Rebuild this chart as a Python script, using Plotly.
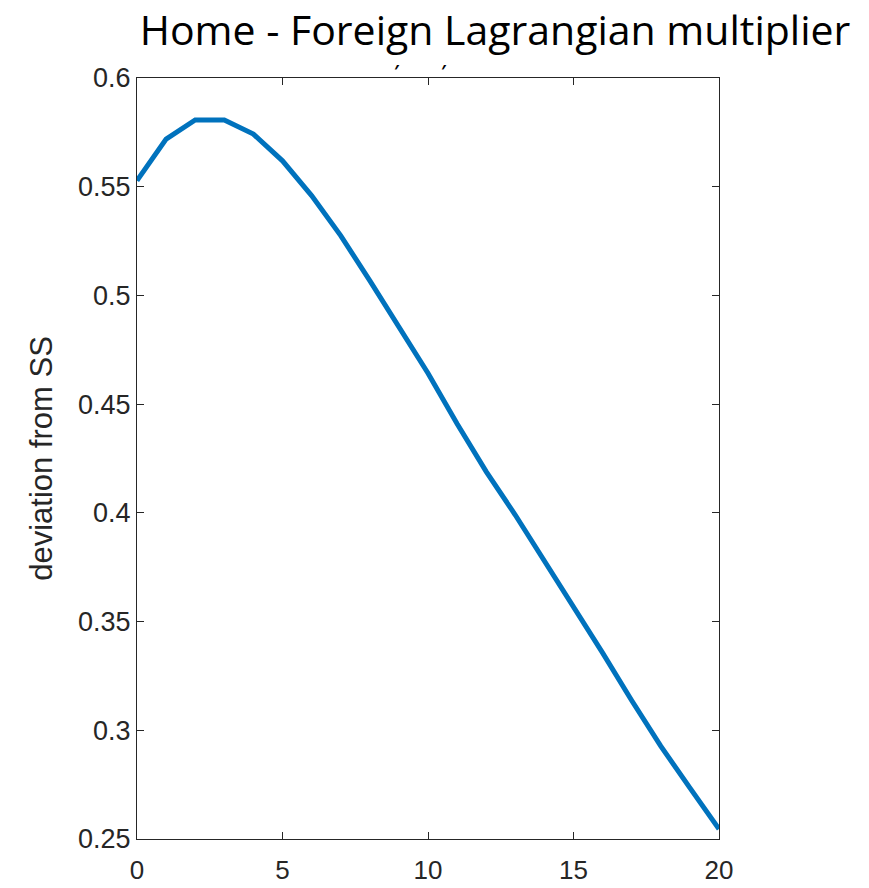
import plotly.graph_objects as go

periods = list(range(21))
deviation = [0.5528, 0.5719, 0.5807, 0.5807, 0.5742, 0.5619, 0.5459, 0.5275, 0.5068,
             0.4853, 0.4642, 0.4410, 0.4190, 0.3990, 0.3780, 0.3573, 0.3356, 0.3137,
             0.2927, 0.2735, 0.2546]
x_ticks = [0, 5, 10, 15, 20]
y_ticks = [0.25, 0.3, 0.35, 0.4, 0.45, 0.5, 0.55, 0.6]

title_text = "Home - Foreign Lagrangian multiplier"
y_title = "deviation from SS"

axcol = "#262626"
tickfont = dict(family="Liberation Sans Narrow, Liberation Sans, Arial", size=27, color=axcol)
xtickfont = dict(family="Liberation Sans Narrow, Liberation Sans, Arial", size=26, color=axcol)

fig = go.Figure()
fig.add_trace(go.Scatter(x=periods, y=deviation, mode="lines",
                         line=dict(color="#0072BD", width=5), showlegend=False))

fig.update_layout(
    width=869, height=888,
    margin=dict(l=137, r=150, t=78, b=49, autoexpand=False),
    paper_bgcolor="white", plot_bgcolor="white",
    title=dict(text=title_text, x=495/869, xanchor="center", y=1-31/888, yanchor="middle",
               yref="container",
               font=dict(family="Open Sans", size=41, color="black")),
    xaxis=dict(range=[0, 20], tickvals=x_ticks, ticks="inside", ticklen=7, tickcolor=axcol,
               showline=True, linecolor=axcol, linewidth=1.3, mirror="ticks",
               showgrid=False, zeroline=False, tickfont=xtickfont, ticklabelstandoff=8,
               automargin=False),
    yaxis=dict(range=[0.25, 0.6], tickvals=y_ticks, ticks="inside", ticklen=7, tickcolor=axcol,
               showline=True, linecolor=axcol, linewidth=1.3, mirror="ticks",
               showgrid=False, zeroline=False, tickfont=tickfont, automargin=False,
               title=dict(text=y_title, standoff=16,
                          font=dict(family="Liberation Sans, Arial", size=31, color=axcol))),
)

for px in [397, 444]:
    fig.add_annotation(text="<b>′</b>", xref="paper", yref="paper",
                       x=(px - 137) / (869 - 137 - 150), y=1,
                       showarrow=False, xanchor="center", yanchor="bottom", yshift=-7,
                       font=dict(family="Open Sans", size=17, color="black"))

fig.write_html("out.html")
